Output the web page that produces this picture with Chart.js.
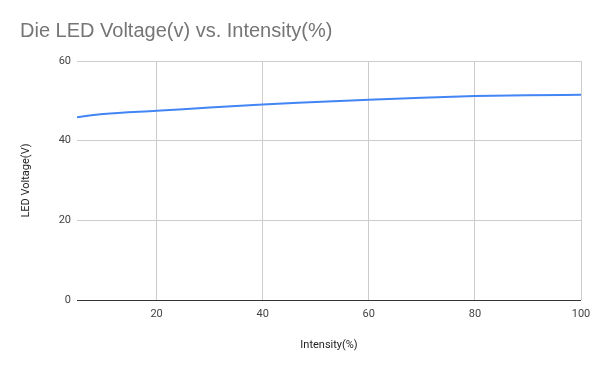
<!DOCTYPE html>
<html>
<head>
<meta charset="utf-8">
<script src="https://cdn.jsdelivr.net/npm/chart.js@4"></script>
<style>
html,body{margin:0;padding:0;background:#fff;}
#wrap{width:600px;height:371px;position:relative;}
</style>
</head>
<body>
<div id="wrap"><canvas id="c" width="600" height="371"></canvas></div>
<script>
const intensity = [5, 10, 20, 30, 40, 50, 60, 70, 80, 90, 100];
const voltage = [45.9, 46.7, 47.5, 48.3, 49.1, 49.7, 50.3, 50.8, 51.2, 51.4, 51.5];
const xTicks = [20, 40, 60, 80, 100];
const yTicks = [0, 20, 40, 60];

const points = intensity.map((x, i) => ({x: x, y: voltage[i]}));

new Chart(document.getElementById('c'), {
  type: 'line',
  data: {
    datasets: [{
      label: 'LED Voltage(V)',
      data: points,
      borderColor: '#4285F4',
      backgroundColor: '#4285F4',
      borderWidth: 2,
      pointRadius: 0,
      cubicInterpolationMode: 'monotone',
      fill: false
    }]
  },
  options: {
    responsive: false,
    animation: false,
    layout: {padding: {left: 20, right: 19, top: 0, bottom: 0}},
    plugins: {
      legend: {display: false},
      tooltip: {enabled: false},
      title: {
        display: true,
        text: 'Die LED Voltage(v) vs. Intensity(%)',
        align: 'start',
        color: '#757575',
        font: {family: 'Liberation Sans, Arial, sans-serif', size: 20, weight: 'normal'},
        padding: {top: 19, bottom: 18}
      }
    },
    scales: {
      x: {
        type: 'linear',
        min: 5,
        max: 100,
        afterBuildTicks: (s) => { s.ticks = xTicks.map(v => ({value: v})); },
        afterFit: (s) => { s.height = 71; },
        grid: {color: '#cccccc', drawTicks: false, lineWidth: 1},
        border: {display: false},
        ticks: {color: '#444444', font: {family: 'Roboto, sans-serif', size: 11}, padding: 8, maxRotation: 0},
        title: {display: true, text: 'Intensity(%)', color: '#222222', font: {family: 'Roboto, sans-serif', size: 11}, padding: {top: 0, bottom: 19}}
      },
      y: {
        min: 0,
        max: 60,
        afterBuildTicks: (s) => { s.ticks = yTicks.map(v => ({value: v})); },
        afterFit: (s) => { s.width = 57; },
        grid: {
          color: (ctx) => (ctx.tick && ctx.tick.value === 0) ? '#333333' : '#cccccc',
          drawTicks: false
        },
        border: {display: false},
        ticks: {color: '#444444', font: {family: 'Roboto, sans-serif', size: 11}, padding: 6},
        title: {display: true, text: 'LED Voltage(V)', color: '#222222', font: {family: 'Roboto, sans-serif', size: 11}, padding: {top: 0, bottom: 0}}
      }
    }
  }
});
</script>
</body>
</html>
